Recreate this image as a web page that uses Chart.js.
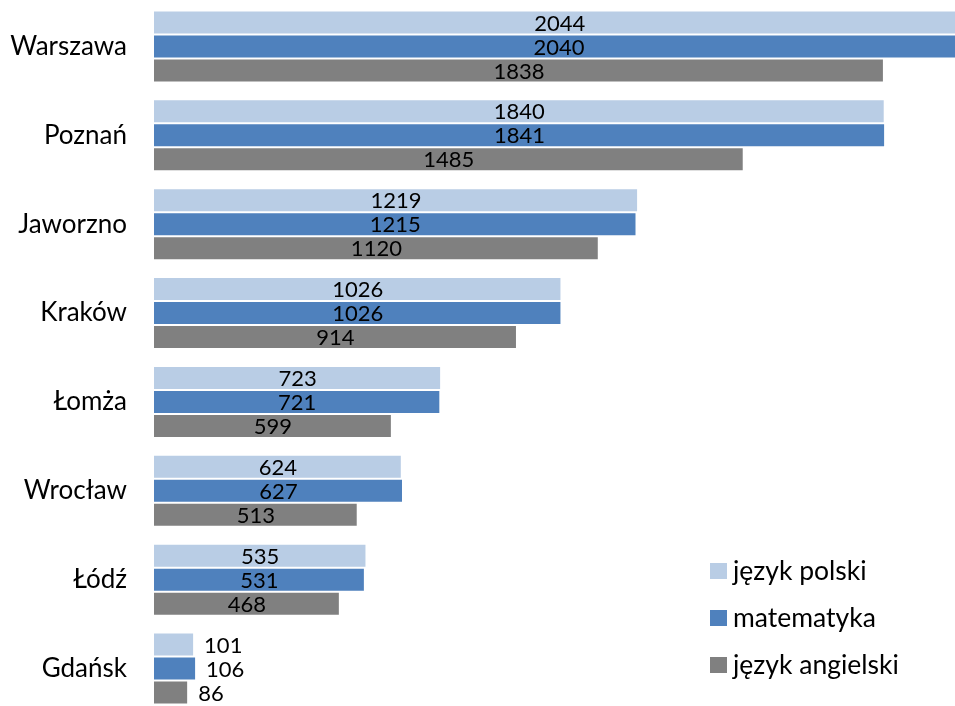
<!DOCTYPE html>
<html>
<head>
<meta charset="utf-8">
<script src="https://cdn.jsdelivr.net/npm/chart.js@4"></script>
<style>
  html, body { margin: 0; padding: 0; background: #fff; overflow: hidden; }
  #wrap { position: relative; width: 955px; height: 714px; }
</style>
</head>
<body>
<div id="wrap"><canvas id="wyniki"></canvas></div>
<script>
const categories = ['Warszawa', 'Poznań', 'Jaworzno', 'Kraków', 'Łomża', 'Wrocław', 'Łódź', 'Gdańsk'];
const polski = [2044, 1840, 1219, 1026, 723, 624, 535, 101];
const matematyka = [2040, 1841, 1215, 1026, 721, 627, 531, 106];
const angielski = [1838, 1485, 1120, 914, 599, 513, 468, 86];
const seriesNames = ['język polski', 'matematyka', 'język angielski'];
const colors = ['#B9CDE5', '#4F81BD', '#808080'];

const FONT = 'Lato';

// etykiety wartości na słupkach
const barLabels = {
    id: 'barLabels',
    afterDatasetsDraw(chart) {
        const ctx = chart.ctx;
        ctx.save();
        ctx.font = '22px ' + FONT;
        ctx.fillStyle = '#000';
        ctx.textBaseline = 'middle';
        chart.data.datasets.forEach((ds, i) => {
            chart.getDatasetMeta(i).data.forEach((bar, j) => {
                const txt = String(ds.data[j]);
                const w = ctx.measureText(txt).width;
                const barW = bar.x - bar.base;
                if (w + 10 > barW) {
                    ctx.textAlign = 'left';
                    ctx.fillText(txt, bar.x + 10, bar.y + 1);
                } else {
                    ctx.textAlign = 'center';
                    ctx.fillText(txt, (bar.x + bar.base) / 2, bar.y + 1);
                }
            });
        });
        ctx.restore();
    }
};

// legenda w prawym dolnym rogu
const cornerLegend = {
    id: 'cornerLegend',
    afterDraw(chart) {
        const ctx = chart.ctx;
        ctx.save();
        ctx.font = '26.5px ' + FONT;
        ctx.textAlign = 'left';
        ctx.textBaseline = 'middle';
        chart.data.datasets.forEach((ds, i) => {
            const y = 571 + i * 47;
            ctx.fillStyle = ds.backgroundColor;
            ctx.fillRect(710, y - 8, 17, 16);
            ctx.fillStyle = '#000';
            ctx.fillText(ds.label, 733, y);
        });
        ctx.restore();
    }
};

const ctx = document.getElementById('wyniki').getContext('2d');

new Chart(ctx, {
    type: 'bar',
    data: {
        labels: categories,
        datasets: [
            { label: seriesNames[0], data: polski, backgroundColor: colors[0] },
            { label: seriesNames[1], data: matematyka, backgroundColor: colors[1] },
            { label: seriesNames[2], data: angielski, backgroundColor: colors[2] }
        ]
    },
    options: {
        indexAxis: 'y',
        responsive: true,
        maintainAspectRatio: false,
        animation: false,
        layout: { padding: { top: 2, bottom: 1, left: 0, right: 0 } },
        datasets: {
            bar: {
                categoryPercentage: 0.81,
                barPercentage: 1,
                borderWidth: 1,
                borderColor: 'rgba(255,255,255,0.25)'
            }
        },
        scales: {
            x: {
                display: false,
                min: 0,
                max: 2017
            },
            y: {
                grid: { display: false, drawTicks: false },
                border: { display: false },
                ticks: {
                    color: '#000',
                    padding: 27,
                    font: { family: FONT, size: 26 }
                },
                afterFit(scale) {
                    scale.width = 154;
                    scale.paddingTop = 0;
                    scale.paddingBottom = 0;
                }
            }
        },
        plugins: {
            legend: { display: false },
            tooltip: { enabled: false }
        }
    },
    plugins: [barLabels, cornerLegend]
});
</script>
</body>
</html>
